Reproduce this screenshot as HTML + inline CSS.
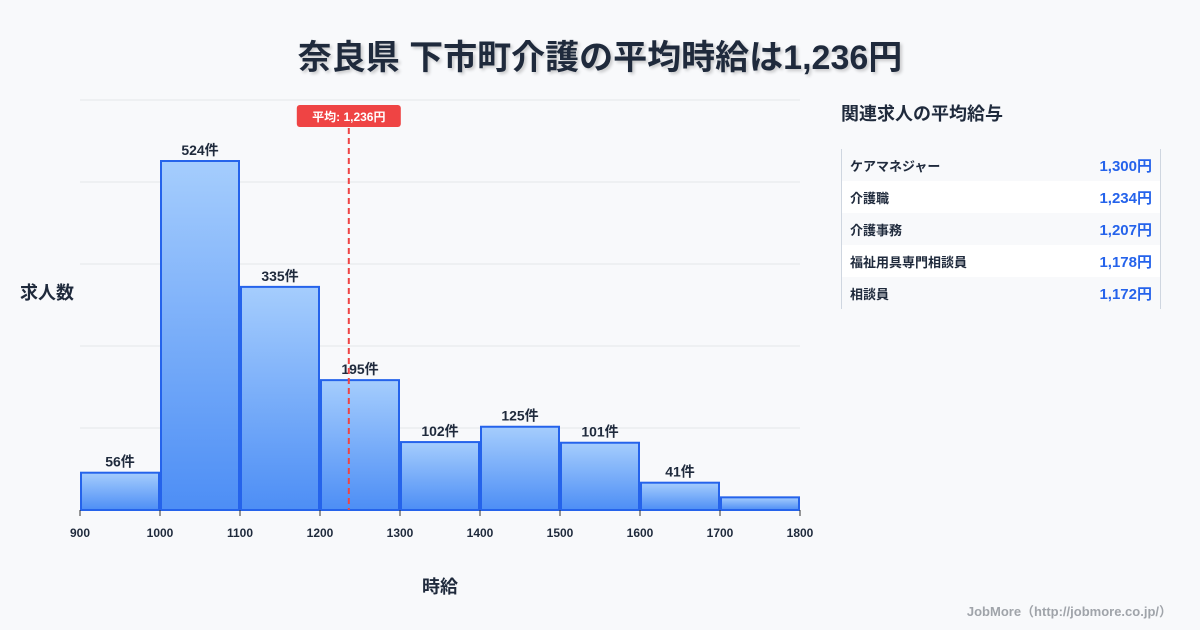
<!DOCTYPE html>
<html><head><meta charset="utf-8"><style>
body{margin:0;width:1200px;height:630px;background:#f8f9fb;font-family:"Liberation Sans","Noto Sans CJK JP",sans-serif;overflow:hidden;position:relative}
.title{position:absolute;top:30px;left:0;width:1200px;text-align:center;font-size:34px;font-weight:bold;color:#1f2a3c;text-shadow:2px 2px 3px rgba(0,0,0,0.2)}
.side{position:absolute;left:841px;top:100px;width:320px}
.side h2{font-size:18px;margin:0 0 23px;color:#1f2a3c}
.tbl{border-left:1px solid #cfd6e0;border-right:1px solid #cfd6e0}
.row{display:flex;justify-content:space-between;height:32px;align-items:center;padding:0 8px;font-size:13px;font-weight:bold;color:#1f2a3c}
.row:nth-child(even){background:#fff}
.row span:last-child{color:#2563eb;font-size:15px}
.foot{position:absolute;right:28px;bottom:10px;font-size:13px;color:#a0a4aa;font-weight:bold}
</style></head><body>
<div class="title">奈良県 下市町介護の平均時給は1,236円</div>
<svg id="chart" width="1200" height="630" style="position:absolute;left:0;top:0">
<defs><linearGradient id="g" x1="0" y1="0" x2="0" y2="1"><stop offset="0" stop-color="#a5cdfd"/><stop offset="1" stop-color="#4d8ef5"/></linearGradient></defs>
</svg>
<div class="side">
<h2>関連求人の平均給与</h2>
<div class="tbl">
<div class="row"><span>ケアマネジャー</span><span>1,300円</span></div>
<div class="row"><span>介護職</span><span>1,234円</span></div>
<div class="row"><span>介護事務</span><span>1,207円</span></div>
<div class="row"><span>福祉用具専門相談員</span><span>1,178円</span></div>
<div class="row"><span>相談員</span><span>1,172円</span></div>
</div></div>
<div class="foot">JobMore（http://jobmore.co.jp/）</div>
<script>
const binStarts=[900,1000,1100,1200,1300,1400,1500,1600,1700];
const counts=[56,524,335,195,102,125,101,41,19];
const labels=["56件","524件","335件","195件","102件","125件","101件","41件",""];
const xTicks=[900,1000,1100,1200,1300,1400,1500,1600,1700,1800];
const meanValue=1236;
const meanLabel="平均: 1,236円";
const NS="http://www.w3.org/2000/svg";
const svg=document.getElementById('chart');
const x=v=>80+(v-900)*0.8;
const y=v=>510-v*(410/615.6);
function mk(t,a){const e=document.createElementNS(NS,t);for(const k in a)e.setAttribute(k,a[k]);svg.appendChild(e);return e;}
for(let i=0;i<=5;i++){const e=mk('line',{x1:80,x2:800,y1:100+i*82,y2:100+i*82,stroke:'#e3e6ea'});

}
binStarts.forEach((b,i)=>{
const r=mk('rect',{x:x(b)+1,y:y(counts[i]),width:78,height:510-y(counts[i]),fill:'url(#g)',stroke:'#2563eb','stroke-width':2});


if(labels[i]){const t=mk('text',{x:x(b)+40,y:y(counts[i])-6,'text-anchor':'middle','font-size':14,'font-weight':'bold',fill:'#1f2a3c'});t.textContent=labels[i];

}
});
xTicks.forEach(v=>{
const l=mk('line',{x1:x(v),x2:x(v),y1:510,y2:516,stroke:'#333'});


const t=mk('text',{x:x(v),y:537,'text-anchor':'middle','font-size':12,'font-weight':'bold',fill:'#1f2a3c'});t.textContent=v;


});
const ml=mk('line',{x1:x(meanValue),x2:x(meanValue),y1:128,y2:510,stroke:'#ef4444','stroke-width':2,'stroke-dasharray':'6,4'});


const mb=mk('rect',{x:x(meanValue)-52,y:105,width:104,height:22,rx:3,fill:'#ef4444'});


const mt=mk('text',{x:x(meanValue),y:121,'text-anchor':'middle','font-size':12,'font-weight':'bold',fill:'#fff'});mt.textContent=meanLabel;


const yt=mk('text',{x:20,y:299,'font-size':18,'font-weight':'bold',fill:'#1f2a3c'});yt.textContent='求人数';


const xt=mk('text',{x:440,y:593,'text-anchor':'middle','font-size':18,'font-weight':'bold',fill:'#1f2a3c'});xt.textContent='時給';


</script>
</body></html>
